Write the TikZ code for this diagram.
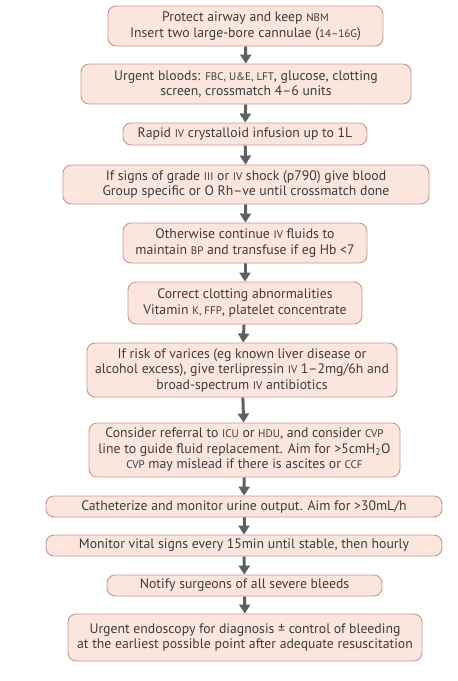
\documentclass[tikz,border=0pt]{standalone}
\usepackage{fontspec}
\setmainfont{PT Sans}
\usetikzlibrary{arrows.meta}
\pgfdeclarelayer{edgelayer}
\pgfdeclarelayer{nodelayer}
\pgfsetlayers{edgelayer,nodelayer,main}
\definecolor{boxfill}{HTML}{FBE6DE}
\definecolor{boxline}{HTML}{C9958C}
\definecolor{arrowgrey}{HTML}{5E5E64}
\definecolor{textgrey}{HTML}{3C3C3C}
\newcommand{\sca}[1]{{\fontsize{11}{15.5}\selectfont #1}}
\tikzstyle{stepbox}=[draw=boxline, fill=boxfill, rounded corners=8pt, line width=0.9pt, align=center, text=textgrey, inner sep=0pt, font=\fontsize{13.75}{15.5}\selectfont]
\tikzstyle{edge}=[draw=arrowgrey, line width=3pt, -{Triangle[width=11pt,length=9pt]}]

\begin{document}
\begin{tikzpicture}[x=1pt, y=-1pt]
	\useasboundingbox (0, 0) rectangle (458, 681);
	\begin{pgfonlayer}{nodelayer}
		\node [style=stepbox, minimum width=275pt, minimum height=40pt] (0) at (245.5, 26) {Protect airway and keep \sca{NBM}\\Insert two large-bore cannulae (\sca{14--16G})};
		\node [style=stepbox, minimum width=330pt, minimum height=40pt] (1) at (246, 84) {Urgent bloods: \sca{FBC, U\&E, LFT}, glucose, clotting\\screen, crossmatch 4--6 units};
		\node [style=stepbox, minimum width=244pt, minimum height=22pt] (2) at (245, 134) {Rapid \sca{IV} crystalloid infusion up to 1L};
		\node [style=stepbox, minimum width=366pt, minimum height=39pt] (3) at (246, 184.5) {If signs of grade \sca{III} or \sca{IV} shock (p790) give blood\\Group specific or O Rh--ve until crossmatch done};
		\node [style=stepbox, minimum width=244pt, minimum height=40pt] (4) at (245, 243) {Otherwise continue \sca{IV} fluids to\\maintain \sca{BP} and transfuse if eg Hb <7};
		\node [style=stepbox, minimum width=234pt, minimum height=42pt] (5) at (245, 303) {Correct clotting abnormalities\\Vitamin \sca{K, FFP}, platelet concentrate};
		\node [style=stepbox, minimum width=310pt, minimum height=54pt] (6) at (242, 370) {If risk of varices (eg known liver disease or\\alcohol excess), give terlipressin \sca{IV} 1--2mg/6h and\\broad-spectrum \sca{IV} antibiotics};
		\node [style=stepbox, minimum width=311pt, minimum height=54pt] (7) at (244.5, 450) {Consider referral to \sca{ICU} or \sca{HDU}, and consider \sca{CVP}\\line to guide fluid replacement. Aim for >5cmH\textsubscript{2}O\\\sca{CVP} may mislead if there is ascites or \sca{CCF}};
		\node [style=stepbox, minimum width=396pt, minimum height=21pt] (8) at (244, 506.5) {Catheterize and monitor urine output. Aim for >30mL/h};
		\node [style=stepbox, minimum width=396pt, minimum height=21pt] (9) at (244, 545.5) {Monitor vital signs every 15min until stable, then hourly};
		\node [style=stepbox, minimum width=275pt, minimum height=21pt] (10) at (244.5, 585.5) {Notify surgeons of all severe bleeds};
		\node [style=stepbox, minimum width=354pt, minimum height=47pt] (11) at (245, 637.5) {Urgent endoscopy for diagnosis ± control of bleeding\\at the earliest possible point after adequate resuscitation};
	\end{pgfonlayer}
	\begin{pgfonlayer}{edgelayer}
		\draw [style=edge] (0) to (1);
		\draw [style=edge] (1) to (2);
		\draw [style=edge] (2) to (3);
		\draw [style=edge] (3) to (4);
		\draw [style=edge] (4) to (5);
		\draw [style=edge] (5) to (6);
		\draw [style=edge] (6) to (7);
		\draw [style=edge] (7) to (8);
		\draw [style=edge] (8) to (9);
		\draw [style=edge] (9) to (10);
		\draw [style=edge] (10) to (11);
	\end{pgfonlayer}
\end{tikzpicture}
\end{document}
